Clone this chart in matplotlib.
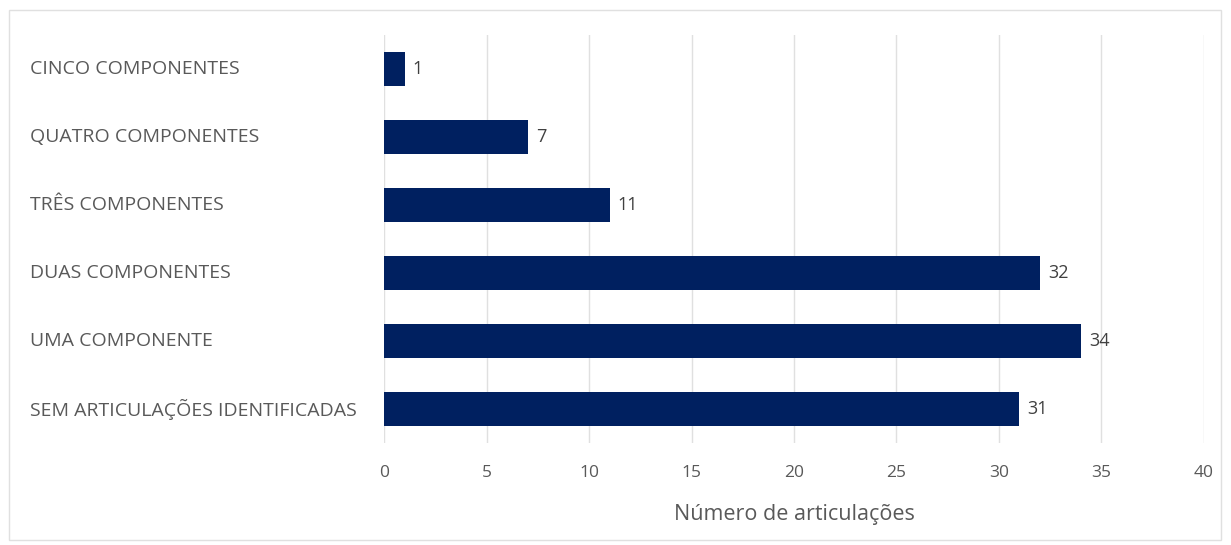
import matplotlib.pyplot as plt
from matplotlib.patches import Rectangle

# dados
categorias = ['SEM ARTICULAÇÕES IDENTIFICADAS', 'UMA COMPONENTE', 'DUAS COMPONENTES',
              'TRÊS COMPONENTES', 'QUATRO COMPONENTES', 'CINCO COMPONENTES']
valores = [31, 34, 32, 11, 7, 1]
ticks_x = [0, 5, 10, 15, 20, 25, 30, 35, 40]

plt.rcParams['font.family'] = ['Open Sans', 'DejaVu Sans']
cinza = '#595959'

fig = plt.figure(figsize=(12.31, 5.45), dpi=100)
ax = fig.add_axes([0.312, 0.187, 0.666, 0.749])

pos = list(range(len(categorias)))
ax.barh(pos, valores, height=0.5, color='#002060', zorder=3)
for p, v in zip(pos, valores):
    ax.text(v + 0.4, p, str(v), va='center', ha='left', fontsize=13, color='#404040')

ax.set_xlim(0, 40)
ax.set_ylim(-0.5, len(categorias) - 0.5)
ax.set_xticks(ticks_x)
ax.set_xticklabels([str(t) for t in ticks_x], fontsize=12.5, color=cinza)
ax.grid(axis='x', color='#e0e0e0', linewidth=1, zorder=0)
ax.set_yticks(pos)
ax.set_yticklabels([])
ax.tick_params(length=0, pad=16)
for s in ax.spines.values():
    s.set_visible(False)

# rótulos das categorias alinhados à esquerda
for p, c in zip(pos, categorias):
    ax.annotate(c, xy=(0, p), xycoords=('figure fraction', 'data'),
                xytext=(30, 0), textcoords='offset pixels',
                va='center', ha='left', fontsize=14, color=cinza)

ax.set_xlabel('Número de articulações', fontsize=15.5, color=cinza, labelpad=16)

fig.patches.append(Rectangle((0.007, 0.01), 0.985, 0.972, transform=fig.transFigure,
                             fill=False, edgecolor='#e0e0e0', linewidth=1))

fig.savefig('out.png', dpi=100)
